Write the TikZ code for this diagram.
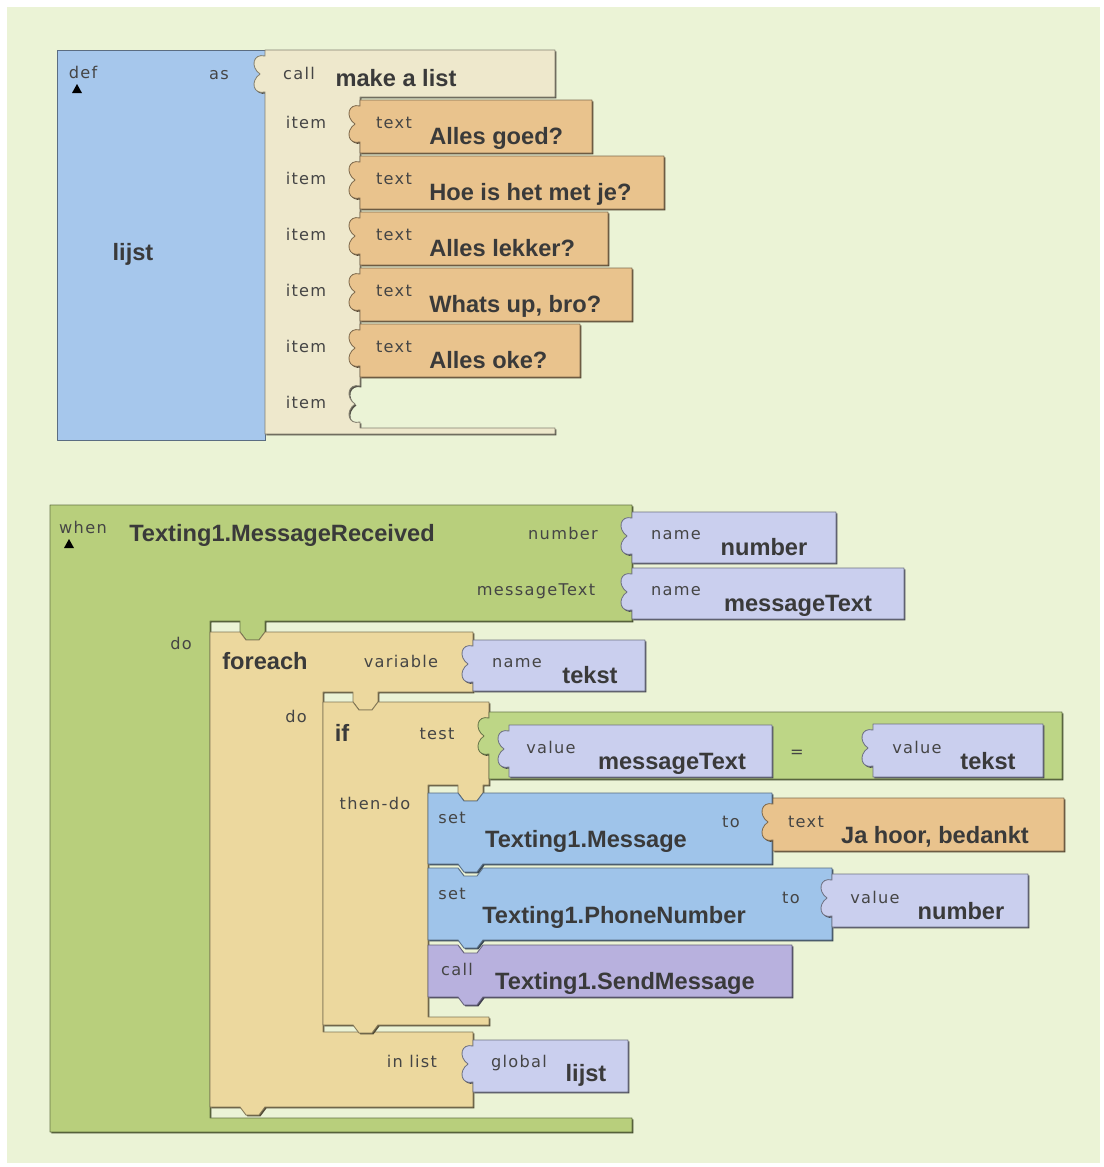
\documentclass[tikz,border=0pt]{standalone}
\usepackage{fontspec}
\usetikzlibrary{shadows}
\newfontfamily\lblfont[LetterSpace=8]{DejaVu Sans}
\newfontfamily\bigfont{Liberation Sans}
\definecolor{bgc}{HTML}{EBF3D6}
\definecolor{defblue}{HTML}{A6C7EC}
\definecolor{mklist}{HTML}{EEE8CC}
\definecolor{txtor}{HTML}{E9C38D}
\definecolor{evgreen}{HTML}{B8CF7C}
\definecolor{tanc}{HTML}{ECD89E}
\definecolor{lav}{HTML}{CACFEE}
\definecolor{setblue}{HTML}{9FC4EA}
\definecolor{callpur}{HTML}{B8B1DE}
\definecolor{eqgreen}{HTML}{BDD686}
\definecolor{lblc}{HTML}{454545}
\definecolor{bigc}{HTML}{3A3A3A}
\tikzset{
  sl/.style={font=\lblfont\fontsize{11.5}{12}\selectfont, text=lblc, inner sep=0pt, anchor=base},
  bl/.style={font=\bigfont\bfseries\fontsize{16.8}{18}\selectfont, text=bigc, inner sep=0pt, anchor=base},
  blk/.style={fill=#1, draw=#1!55!black, line width=0.6pt, line join=round,
    drop shadow={shadow xshift=1pt, shadow yshift=-1pt, fill=#1!35!black, opacity=1}},
}
\newcommand\tabup[2]{-- (#1,#2+42) .. controls (#1-12,#2+45) and (#1-15,#2+31) .. (#1-5,#2+24) .. controls (#1-15,#2+17) and (#1-12,#2+3) .. (#1,#2+6)}
\newcommand\tabdown[2]{-- (#1,#2+6) .. controls (#1-12,#2+3) and (#1-15,#2+17) .. (#1-5,#2+24) .. controls (#1-15,#2+31) and (#1-12,#2+45) .. (#1,#2+42)}
\newcommand\vblk[5]{\filldraw[blk=#5] (#1,#2) -- (#3,#2) -- (#3,#4) -- (#1,#4) \tabup{#1}{#2} -- cycle;}
\begin{document}
\begin{tikzpicture}[x=0.025cm,y=-0.025cm]
\useasboundingbox (0,0) rectangle (1104,1167);
\fill[white] (0,0) rectangle (1104,1167);
\fill[bgc] (7,7) rectangle (1100,1163);

% ---------- def block ----------
\filldraw[blk=defblue] (57,50) rectangle (265,440);
\fill[black] (72,93) -- (82,93) -- (77,84) -- cycle;
\node[sl] (tdef) at (83,78) {def};
\node[sl] (tas) at (219,79) {as};
\node[bl] (tlijst) at (133,260) {lijst};

% ---------- make a list ----------
\filldraw[blk=mklist] (265,50) -- (555,50) -- (555,97) -- (360,97) \tabdown{360}{380} -- (360,428) -- (555,428) -- (555,434) -- (265,434) \tabup{265}{50} -- cycle;
\node[sl] (tcall) at (299,79) {call};
\node[bl] (tmk) at (396,86) {make a list};
\foreach \k/\y in {1/122,2/178,3/234,4/290,5/346,6/402}{
  \node[sl] (item\k) at (306,\y+6) {item};
}
\vblk{360}{100}{592}{153}{txtor}
\vblk{360}{156}{664}{209}{txtor}
\vblk{360}{212}{608}{265}{txtor}
\vblk{360}{268}{632}{321}{txtor}
\vblk{360}{324}{580}{377}{txtor}
\foreach \k/\y/\t in {1/100/{Alles goed?},2/156/{Hoe is het met je?},3/212/{Alles lekker?},4/268/{Whats up, bro?},5/324/{Alles oke?}}{
  \node[sl] (tt\k) at (394,\y+28) {text};
  \node[bl, anchor=base west] (tv\k) at (429,\y+44) {\t};
}

% ---------- event block ----------
\filldraw[blk=evgreen] (50,505) -- (632,505) -- (632,621) -- (265,621) -- (265,632) -- (259,640) -- (246,640) -- (240,632) -- (240,621) -- (210,621) -- (210,1118) -- (632,1118) -- (632,1132) -- (50,1132) -- cycle;
\fill[black] (64,548) -- (74,548) -- (69,539) -- cycle;
\node[sl] (twhen) at (83,533) {when};
\node[bl] (tev) at (282,541) {Texting1.MessageReceived};
\node[sl] (tnum) at (563,539) {number};
\node[sl] (tmsg) at (536,595) {messageText};
\node[sl] (tdo1) at (181,649) {do};
\vblk{632}{512}{836}{563}{lav}
\vblk{632}{568}{904}{619}{lav}
\node[sl] (tn1) at (676,539) {name};
\node[bl] (tnv1) at (764,555) {number};
\node[sl] (tn2) at (676,595) {name};
\node[bl] (tnv2) at (798,611) {messageText};

% ---------- foreach ----------
\filldraw[blk=tanc] (210,632) -- (240,632) -- (246,640) -- (259,640) -- (265,632) -- (473,632) -- (473,692) -- (378,692) -- (378,702) -- (372,710) -- (359,710) -- (353,702) -- (353,692) -- (323,692) -- (323,1032) -- (473,1032) -- (473,1107) -- (265,1107) -- (259,1115) -- (246,1115) -- (240,1107) -- (210,1107) -- cycle;
\node[bl] (tfe) at (265,669) {foreach};
\node[sl] (tvar) at (401,667) {variable};
\node[sl] (tdo2) at (296,722) {do};
\node[sl] (tinl) at (412,1067) {in list};
\vblk{473}{640}{645}{691}{lav}
\node[sl] (tn3) at (517,667) {name};
\node[bl] (tnv3) at (590,683) {tekst};
\vblk{473}{1040}{628}{1092}{lav}
\node[sl] (tglob) at (519,1067) {global};
\node[bl] (tgl) at (586,1081) {lijst};

% ---------- if ----------
\filldraw[blk=tanc] (323,702) -- (353,702) -- (359,710) -- (372,710) -- (378,702) -- (489,702) -- (489,785) -- (483,785) -- (483,793) -- (477,801) -- (464,801) -- (458,793) -- (458,785) -- (428,785) -- (428,1017) -- (489,1017) -- (489,1025) -- (378,1025) -- (372,1033) -- (359,1033) -- (353,1025) -- (323,1025) -- cycle;
\node[bl] (tif) at (342,741) {if};
\node[sl] (ttest) at (437,739) {test};
\node[sl] (tthen) at (375,809) {then-do};

% equals
\vblk{489}{712}{1062}{779}{eqgreen}
\vblk{509}{725}{772}{777}{lav}
\vblk{873}{724}{1043}{777}{lav}
\node[sl] (tval1) at (551,753) {value};
\node[bl] (tvv1) at (672,769) {messageText};
\node[sl, anchor=center] (teq) at (797,754) {=};
\node[sl] (tval2) at (917,753) {value};
\node[bl] (tvv2) at (988,769) {tekst};

% set Message
\filldraw[blk=setblue] (428,793) -- (458,793) -- (464,801) -- (477,801) -- (483,793) -- (772,793) -- (772,864) -- (483,864) -- (477,872) -- (464,872) -- (458,864) -- (428,864) -- cycle;
\node[sl] (tset1) at (452,823) {set};
\node[bl] (tsm) at (586,847) {Texting1.Message};
\node[sl] (tto1) at (731,827) {to};
\vblk{773}{798}{1064}{851}{txtor}
\node[sl] (ttx) at (806,827) {text};
\node[bl] (tja) at (935,843) {Ja hoor, bedankt};

% set PhoneNumber
\filldraw[blk=setblue] (428,868) -- (458,868) -- (464,876) -- (477,876) -- (483,868) -- (832,868) -- (832,940) -- (483,940) -- (477,948) -- (464,948) -- (458,940) -- (428,940) -- cycle;
\node[sl] (tset2) at (452,899) {set};
\node[bl] (tsp) at (614,923) {Texting1.PhoneNumber};
\node[sl] (tto2) at (791,903) {to};
\vblk{832}{874}{1028}{927}{lav}
\node[sl] (tval3) at (875,903) {value};
\node[bl] (tvv3) at (961,919) {number};

% call SendMessage
\filldraw[blk=callpur] (428,945) -- (458,945) -- (464,953) -- (477,953) -- (483,945) -- (792,945) -- (792,997) -- (483,997) -- (477,1005) -- (464,1005) -- (458,997) -- (428,997) -- cycle;
\node[sl] (tcall2) at (457,975) {call};
\node[bl] (tsend) at (625,989) {Texting1.SendMessage};
\end{tikzpicture}
\end{document}
